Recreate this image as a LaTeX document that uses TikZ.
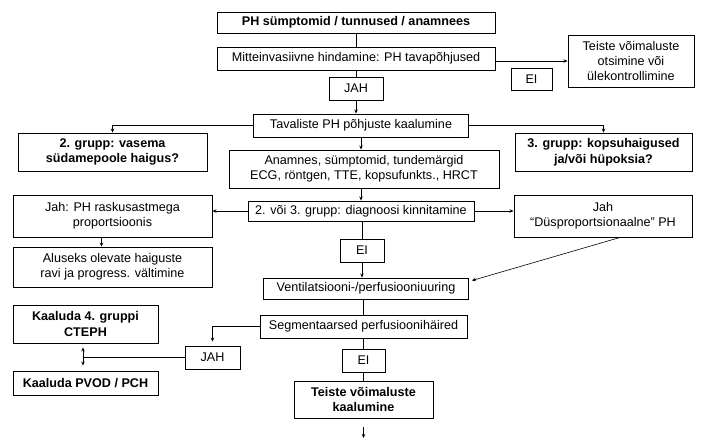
\documentclass[tikz,border=0pt]{standalone}
\usepackage{fontspec}
\setmainfont{Liberation Sans}
\usetikzlibrary{arrows.meta}

\tikzstyle{box}=[draw, line width=0.9pt, align=center, inner sep=1pt,
                 font=\fontsize{12.6}{15}\selectfont]
\tikzstyle{bbox}=[box, font=\fontsize{12.6}{15.5}\selectfont\bfseries]
\tikzstyle{link}=[line width=0.8pt]
\tikzstyle{arr}=[link, -{Stealth[length=4pt,width=3.5pt]}]

\begin{document}
\begin{tikzpicture}[x=1pt,y=-1pt]
    \useasboundingbox (0,0) rectangle (718,439);
    % Nodes are put at fixed coordinates (pixels of the page, y downwards).
    % Main column first, then the side boxes left and right.
    \node[bbox, minimum width=278, minimum height=21] (symp) at (356,22.5)
        {PH sümptomid / tunnused / anamnees};
    \node[box, minimum width=278, minimum height=23] (mitte) at (356,58.5)
        {Mitteinvasiivne hindamine: PH tavapõhjused};
    \node[box, minimum width=126, minimum height=52] (teisteA) at (631,61)
        {Teiste võimaluste\\otsimine või\\ülekontrollimine};
    \node[box, minimum width=41, minimum height=22] (eiA) at (531.5,79) {EI};
    \node[box, minimum width=54, minimum height=23] (jahA) at (356,88.5) {JAH};
    \node[box, minimum width=215, minimum height=23] (tav) at (361,125.5)
        {Tavaliste PH põhjuste kaalumine};
    \node[bbox, minimum width=189, minimum height=38] (grp2) at (112.5,152)
        {2. grupp: vasema\\südamepoole haigus?};
    \node[bbox, minimum width=177, minimum height=38] (grp3) at (603.5,152)
        {3. grupp: kopsuhaigused\\ja/või hüpoksia?};
    \node[box, minimum width=270, minimum height=38] (anam) at (364,169)
        {Anamnes, sümptomid, tundemärgid\\ECG, röntgen, TTE, kopsufunkts., HRCT};
    \node[box, minimum width=226, minimum height=20] (diag) at (361,211)
        {2. või 3. grupp: diagnoosi kinnitamine};
    \node[box, minimum width=199, minimum height=42] (jahL) at (112.5,216)
        {Jah: PH raskusastmega\\proportsioonis};
    \node[box, minimum width=178, minimum height=42] (jahR) at (603,216)
        {Jah\\“Düsproportsionaalne” PH};
    \node[box, minimum width=199, minimum height=40] (alus) at (112.5,267)
        {Aluseks olevate haiguste\\ravi ja progress. vältimine};
    \node[box, minimum width=44, minimum height=23] (eiB) at (362,250.5) {EI};
    \node[box, minimum width=205, minimum height=21] (vent) at (366,288.5)
        {Ventilatsiooni-/perfusiooniuuring};
    \node[box, minimum width=207, minimum height=23] (seg) at (363.5,326.5)
        {Segmentaarsed perfusioonihäired};
    \node[box, minimum width=43, minimum height=23] (eiC) at (363.5,360.5) {EI};
    \node[bbox, minimum width=139, minimum height=37] (teisteB) at (363.5,399.5)
        {Teiste võimaluste\\kaalumine};
    \node[bbox, minimum width=145, minimum height=38] (k4) at (85.5,324)
        {Kaaluda 4. gruppi\\CTEPH};
    \node[bbox, minimum width=145, minimum height=24] (pvod) at (85.5,383)
        {Kaaluda PVOD / PCH};
    \node[box, minimum width=55, minimum height=23] (jahC) at (212.5,357.5) {JAH};
    \coordinate (tail) at (363.5,438);

    % Connectors, top to bottom.
    \draw[link] (symp.south) -- (mitte.north);
    \draw[arr] (mitte.east |- teisteA.west) -- (teisteA.west);
    \draw[link] (mitte.south) -- (jahA.north);
    \draw[arr] (jahA.south) -- (jahA.south |- tav.north);
    \draw[arr] (tav.west) -| (grp2.north);
    \draw[arr] (tav.east) -| (grp3.north);
    \draw[arr] (tav.south) -- (tav.south |- anam.north);
    \draw[arr] (diag.north |- anam.south) -- (diag.north);
    \draw[arr] (diag.west) -- (diag.west -| jahL.east);
    \draw[arr] (diag.east) -- (diag.east -| jahR.west);
    \draw[arr] ([xshift=-11pt]jahL.south) -- ([xshift=-11pt]alus.north);
    \draw[link] (eiB.north |- diag.south) -- (eiB.north);
    \draw[arr] (eiB.south) -- (eiB.south |- vent.north);
    \draw[arr, line width=0.6pt] ([xshift=17pt]jahR.south) -- ([xshift=3pt,yshift=-3pt]vent.north east);
    \draw[link] (seg.north |- vent.south) -- (seg.north);
    \draw[arr, shorten >=4pt] (seg.west) -| (jahC.north);
    \draw[link] (jahC.west) -- ([xshift=-2.5pt]k4.south |- jahC.west);
    \draw[link, {Stealth[length=4pt,width=3.5pt]}-{Stealth[length=4pt,width=3.5pt]},
          shorten <=4pt, shorten >=5pt] ([xshift=-2.5pt]k4.south) -- ([xshift=-2.5pt]pvod.north);
    \draw[link] (seg.south) -- (eiC.north);
    \draw[link] (eiC.south) -- (teisteB.north);
    \draw[arr, line width=1.2pt, shorten <=9pt] (teisteB.south) -- (tail);
\end{tikzpicture}
\end{document}
